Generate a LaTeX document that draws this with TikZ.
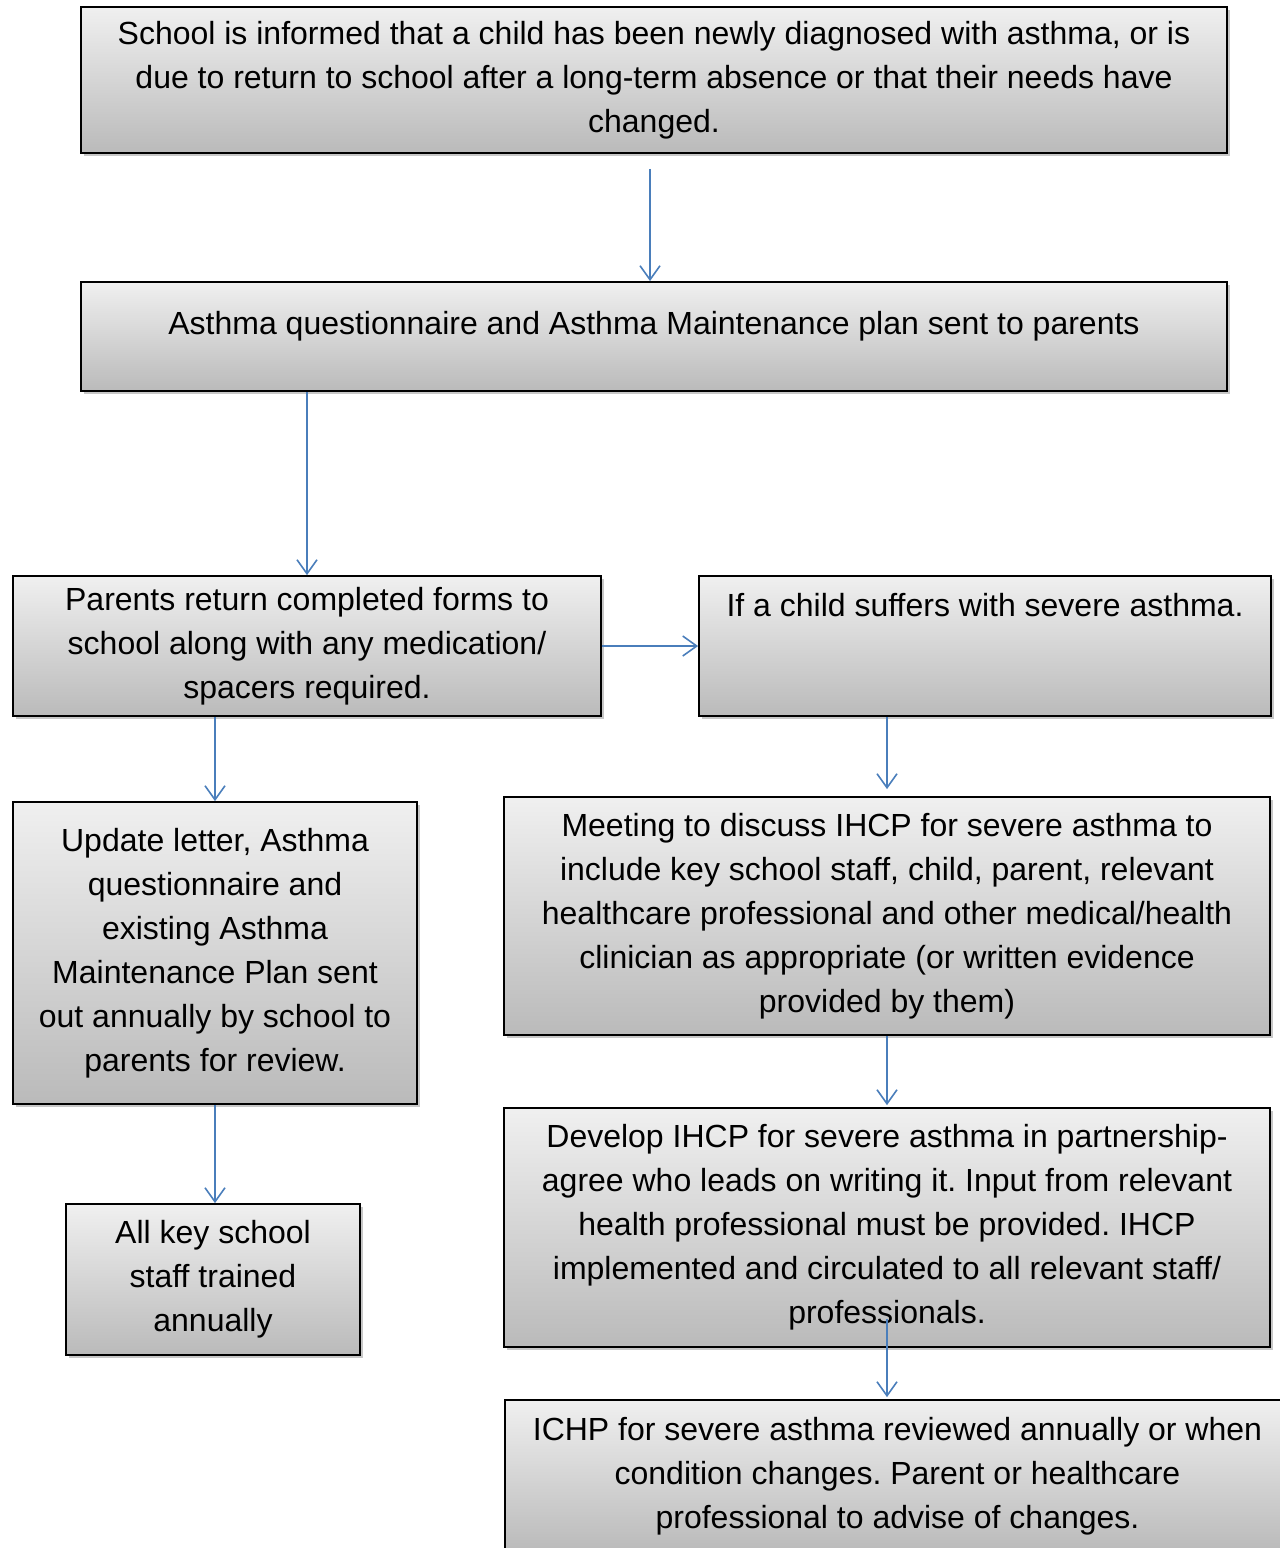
\documentclass[tikz,border=0pt]{standalone}
\usepackage{fontspec}
\setmainfont{Liberation Sans}
\usetikzlibrary{arrows.meta,shadows}
\definecolor{flowblue}{HTML}{4A7EBB}
\frenchspacing
\begin{document}
\begin{tikzpicture}[x=0.5pt,y=-0.5pt,
    stepbox/.style 2 args={draw=black,line width=0.9pt,top color=black!6,bottom color=black!27,
      drop shadow={shadow xshift=1.5pt,shadow yshift=-1.5pt,fill=black,opacity=0.22},
      minimum width=#1*0.5pt,minimum height=#2*0.5pt,inner sep=0pt,align=center,
      font=\fontsize{16pt}{22pt}\selectfont},
    flow/.style={draw=flowblue,line width=0.8pt,-{Straight Barb[length=7pt,width=10pt]}}]
  \useasboundingbox (0,0) rectangle (1280,1548);

  \node[stepbox={1146}{146}] (informed) at (654,80)
    {School is informed that a child has been newly diagnosed with asthma, or is\\
     due to return to school after a long-term absence or that their needs have\\
     changed.};
  \node[stepbox={1146}{109},text height=26pt,text depth=28.5pt] (sent) at (654,336.5)
    {Asthma questionnaire and Asthma Maintenance plan sent to parents};

  \node[stepbox={588}{140}] (forms) at (307,646)
    {Parents return completed forms to\\school along with any medication/\\spacers required.};
  \node[stepbox={572}{140},text height=20pt,text depth=50pt] (severe) at (985,646)
    {If a child suffers with severe asthma.};

  \node[stepbox={404}{302}] (update) at (215,953)
    {Update letter, Asthma\\questionnaire and\\existing Asthma\\Maintenance Plan sent\\
     out annually by school to\\parents for review.};
  \node[stepbox={766}{238}] (meeting) at (887,916)
    {Meeting to discuss IHCP for severe asthma to\\include key school staff, child, parent, relevant\\
     healthcare professional and other medical/health\\clinician as appropriate (or written evidence\\
     provided by them)};

  \node[stepbox={294}{151}] (trained) at (213,1279.5)
    {All key school\\staff trained\\annually};
  \node[stepbox={766}{239}] (develop) at (887,1227.5)
    {Develop IHCP for severe asthma in partnership-\\agree who leads on writing it. Input from relevant\\
     health professional must be provided. IHCP\\implemented and circulated to all relevant staff/\\
     professionals.};
  \node[stepbox={785}{152}] (review) at (897.5,1476)
    {ICHP for severe asthma reviewed annually or when\\condition changes. Parent or healthcare\\
     professional to advise of changes.};

  \draw[flow,shorten <=7.5pt] ([xshift=-2pt]informed.south) -- ([xshift=-2pt]sent.north);
  \draw[flow] (forms.north |- sent.south) -- (forms.north);
  \draw[flow] (forms.east) -- (severe.west);
  \draw[flow] (update.north |- forms.south) -- (update.north);
  \draw[flow,shorten >=3.5pt] (meeting.north |- severe.south) -- (meeting.north);
  \draw[flow,shorten >=1pt] (meeting.south) -- (develop.north);
  \draw[flow] (update.south) -- (update.south |- trained.north);
  \draw[flow,shorten >=1pt] ([yshift=14.5pt]develop.south) -- (develop.south |- review.north);
\end{tikzpicture}
\end{document}
